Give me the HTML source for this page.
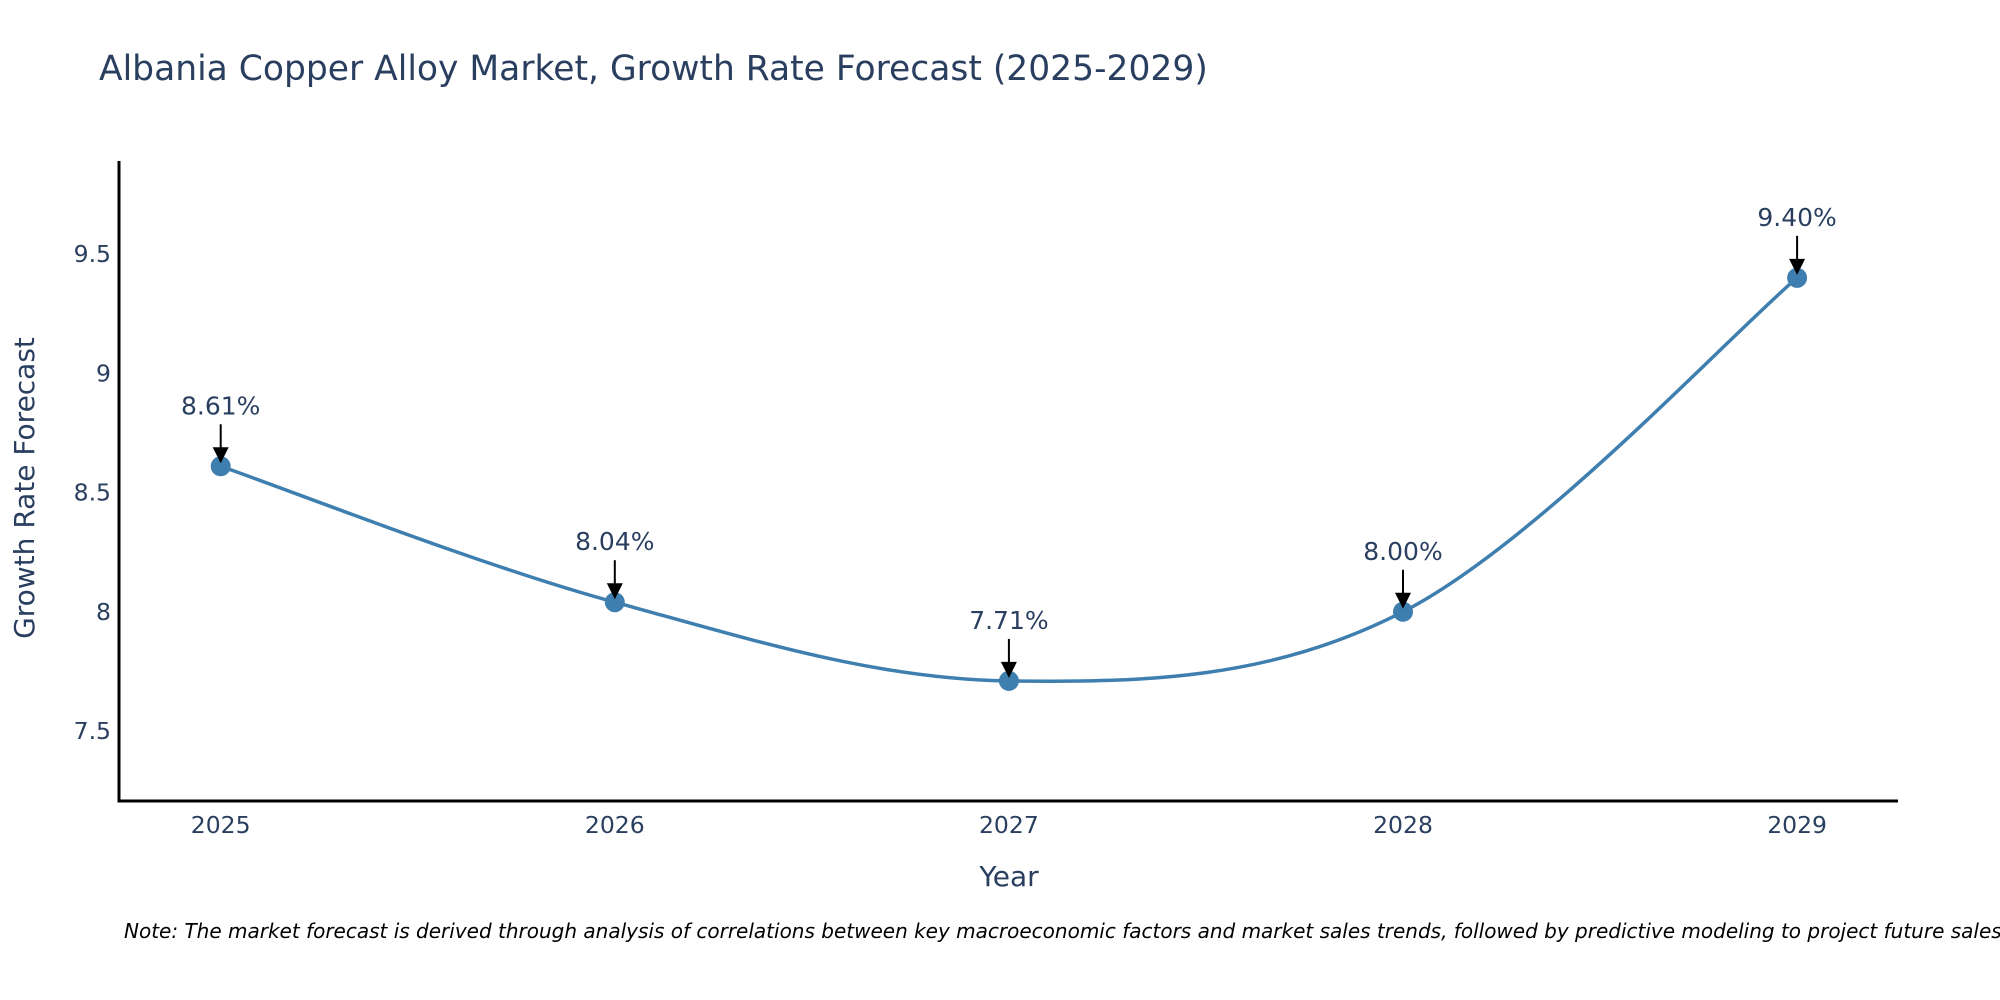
<!DOCTYPE html>
<html><head><meta charset="utf-8"><style>
html,body{margin:0;padding:0;background:#fff;}
svg{display:block;font-family:"DejaVu Sans","Liberation Sans",sans-serif;}
</style></head><body>
<svg id="chart" width="2000" height="1000" viewBox="0 0 2000 1000">
<text x="99" y="80" font-size="34.5" fill="#2a3f5f">Albania Copper Alloy Market, Growth Rate Forecast (2025-2029)</text>
<g id="yticks"></g>
<g id="xticks"></g>
<line x1="119" y1="161" x2="119" y2="802" stroke="#000" stroke-width="3"/>
<line x1="117.5" y1="801" x2="1898" y2="801" stroke="#000" stroke-width="3"/>
<text transform="translate(34,488) rotate(-90)" text-anchor="middle" font-size="28" fill="#2a3f5f">Growth Rate Forecast</text>
<text x="1009" y="886" text-anchor="middle" font-size="28" fill="#2a3f5f">Year</text>
<path id="line" fill="none" stroke="#3f7fb0" stroke-width="3.5"/>
<g id="points"></g>
<g id="annots"></g>
<text x="124" y="938" font-size="20" font-style="italic" fill="#000">Note: The market forecast is derived through analysis of correlations between key macroeconomic factors and market sales trends, followed by predictive modeling to project future sales.</text>
</svg>
<script>
const years = [2025, 2026, 2027, 2028, 2029];
const growthValues = [8.61, 8.04, 7.71, 8.00, 9.40];
const valueLabels = ["8.61%", "8.04%", "7.71%", "8.00%", "9.40%"];
const yTickValues = [7.5, 8, 8.5, 9, 9.5];
const yTickLabels = ["7.5", "8", "8.5", "9", "9.5"];

const NS = "http://www.w3.org/2000/svg";
function xScale(v){ return 220.7 + (v - 2025) * 394.1; }
function yScale(v){ return 254 + (9.5 - v) * 238.5; }
function mk(tag, attrs, parent){ const e = document.createElementNS(NS, tag); for (const k in attrs) e.setAttribute(k, attrs[k]); parent.appendChild(e); return e; }

const yt = document.getElementById('yticks');
yTickValues.forEach((v, i) => {
  const t = mk('text', {x: 111, y: yScale(v) + 8, 'text-anchor': 'end', 'font-size': 23.5, fill: '#2a3f5f'}, yt);
  
  
  t.textContent = yTickLabels[i];
});
const xt = document.getElementById('xticks');
years.forEach(y => {
  const t = mk('text', {x: xScale(y), y: 833, 'text-anchor': 'middle', 'font-size': 23.5, fill: '#2a3f5f'}, xt);
  
  
  t.textContent = String(y);
});

const pts = years.map((y, i) => [xScale(y), yScale(growthValues[i])]);
let d = 'M' + pts[0][0] + ',' + pts[0][1];
const s = 0.17;
for (let i = 0; i < pts.length - 1; i++) {
  const p0 = pts[Math.max(0, i - 1)], p1 = pts[i], p2 = pts[i + 1], p3 = pts[Math.min(pts.length - 1, i + 2)];
  const c1 = [p1[0] + (p2[0] - p0[0]) * s, p1[1] + (p2[1] - p0[1]) * s];
  const c2 = [p2[0] - (p3[0] - p1[0]) * s, p2[1] - (p3[1] - p1[1]) * s];
  d += ' C' + c1[0] + ',' + c1[1] + ' ' + c2[0] + ',' + c2[1] + ' ' + p2[0] + ',' + p2[1];
}
document.getElementById('line').setAttribute('d', d);

const pg = document.getElementById('points');
const ag = document.getElementById('annots');
pts.forEach((p, i) => {
  const c = mk('circle', {cx: p[0], cy: p[1], r: 10, fill: '#3f7fb0'}, pg);
  
  
  const l = mk('line', {x1: p[0], y1: p[1] - 42, x2: p[0], y2: p[1] - 16, stroke: '#000', 'stroke-width': 2}, ag);
  
  
  const h = mk('polygon', {points: (p[0]-8)+','+(p[1]-19)+' '+(p[0]+8)+','+(p[1]-19)+' '+p[0]+','+(p[1]-3), fill: '#000'}, ag);
  
  
  const t = mk('text', {x: p[0], y: p[1] - 52, 'text-anchor': 'middle', 'font-size': 25, fill: '#2a3f5f'}, ag);
  
  
  t.textContent = valueLabels[i];
});
</script>
</body></html>
